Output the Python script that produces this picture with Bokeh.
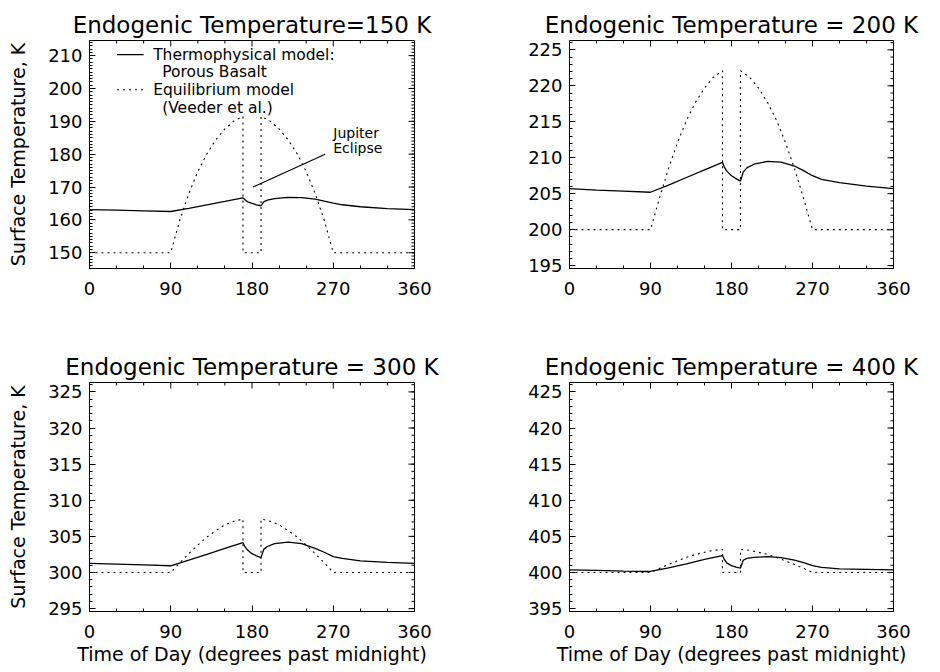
from bokeh.plotting import figure
from bokeh.models import Range1d, FixedTicker
from bokeh.layouts import row, column
from bokeh.embed import file_html
from bokeh.resources import INLINE
from bokeh.core.properties import value

# ---------------- data ----------------
x_solid = [0, 30, 60, 90, 110, 130, 150, 170, 172, 175, 180, 185, 190, 193, 197,
           205, 220, 235, 250, 260, 270, 280, 300, 330, 360]
t150_solid = [163.15, 162.95, 162.75, 162.55, 163.5, 164.55, 165.6, 166.7, 166.2, 165.5,
              165.0, 164.6, 164.3, 165.5, 166.0, 166.5, 166.85, 166.8, 166.3, 165.7,
              165.1, 164.6, 164.0, 163.45, 163.15]
t200_solid = [205.7, 205.5, 205.35, 205.2, 206.2, 207.25, 208.3, 209.35, 208.7, 208.1,
              207.5, 207.1, 206.75, 208.0, 208.6, 209.1, 209.5, 209.4, 208.85, 208.2,
              207.5, 207.0, 206.55, 206.05, 205.7]
t300_solid = [301.25, 301.15, 301.05, 300.93, 301.7, 302.5, 303.35, 304.15, 303.6, 303.1,
              302.6, 302.3, 302.05, 303.2, 303.6, 304.0, 304.2, 304.0, 303.35, 302.8,
              302.2, 301.95, 301.6, 301.4, 301.25]
t400_solid = [400.35, 400.28, 400.2, 400.14, 400.65, 401.2, 401.8, 402.35, 401.8, 401.3,
              400.95, 400.75, 400.6, 401.7, 401.95, 402.1, 402.2, 402.05, 401.7, 401.35,
              400.95, 400.7, 400.5, 400.42, 400.35]

x_eq = [0, 90, 100, 110, 120, 130, 140, 150, 160, 170, 170, 190, 190, 200, 210, 220,
        230, 240, 250, 260, 270, 360]
t150_eq = [150, 150, 159.9, 168.0, 174.7, 180.1, 184.4, 187.7, 190.1, 191.5, 150, 150,
           191.5, 190.1, 187.7, 184.4, 180.1, 174.7, 168.0, 159.9, 150, 150]
t200_eq = [200, 200, 204.4, 208.5, 212.1, 215.2, 217.7, 219.7, 221.2, 222.1, 200, 200,
           222.1, 221.2, 219.7, 217.7, 215.2, 212.1, 208.5, 204.4, 200, 200]
t300_eq = [300, 300, 301.35, 302.6, 303.8, 304.9, 305.8, 306.6, 307.1, 307.4, 300, 300,
           307.4, 307.1, 306.6, 305.8, 304.9, 303.8, 302.6, 301.35, 300, 300]
t400_eq = [400, 400, 400.57, 401.1, 401.6, 402.1, 402.5, 402.8, 403.07, 403.2, 400, 400,
           403.2, 403.07, 402.8, 402.5, 402.1, 401.6, 401.1, 400.57, 400, 400]

titles = ["Endogenic Temperature=150 K", "Endogenic Temperature = 200 K",
          "Endogenic Temperature = 300 K", "Endogenic Temperature = 400 K"]
y_ranges = [(145.2, 214.6), (194.6, 226.3), (294.6, 326.3), (394.6, 426.3)]
y_major = [[150, 160, 170, 180, 190, 200, 210],
           [195, 200, 205, 210, 215, 220, 225],
           [295, 300, 305, 310, 315, 320, 325],
           [395, 400, 405, 410, 415, 420, 425]]
x_major = [0, 90, 180, 270, 360]
x_minor = [30, 60, 120, 150, 210, 240, 300, 330]

legend_labels = ["Thermophysical model:", "Porous Basalt", "Equilibrium model", "(Veeder et al.)"]
eclipse_labels = ["Jupiter", "Eclipse"]

FONT = "DejaVu Sans"
MAJ, MIN = 6, 3


def style_axis(ax, ticker, standoff):
    ax.ticker = ticker
    ax.major_tick_in = MAJ
    ax.major_tick_out = 0
    ax.minor_tick_in = MIN
    ax.minor_tick_out = 0
    ax.axis_line_color = "black"
    ax.major_tick_line_color = "black"
    ax.minor_tick_line_color = "black"
    ax.major_label_text_font = FONT
    ax.major_label_text_color = "black"
    ax.major_label_text_font_size = "18px"
    ax.major_label_standoff = standoff
    ax.axis_label_text_font = FONT
    ax.axis_label_text_font_size = "19px"
    ax.axis_label_text_font_style = "normal"
    ax.axis_label_text_color = "black"


def make_panel(i, xs, ys, xe, ye, width, height, left, right, top, bottom, ylab, xlab):
    fw = width - left - right
    fh = height - top - bottom
    y0, y1 = y_ranges[i]
    p = figure(width=width, height=height, output_backend="svg", toolbar_location=None,
               x_range=Range1d(0, 360), y_range=Range1d(y0, y1),
               min_border_left=left, min_border_right=right,
               min_border_top=top, min_border_bottom=bottom)
    p.background_fill_color = "white"
    p.border_fill_color = "white"
    p.outline_line_color = "black"
    p.xgrid.visible = False
    p.ygrid.visible = False
    p.title.text = titles[i]
    p.title.align = "center"
    p.title.text_font = FONT
    p.title.text_font_size = "23px"
    p.title.text_font_style = "normal"
    p.title.text_color = "black"
    p.title.standoff = 6

    y_minor = list(range(int(y0) + 1, int(y1) + 1))
    xax = p.xaxis[0]
    yax = p.yaxis[0]
    style_axis(xax, FixedTicker(ticks=x_major, minor_ticks=x_minor), 13)
    style_axis(yax, FixedTicker(ticks=y_major[i], minor_ticks=y_minor), 7)
    if ylab:
        yax.axis_label = "Surface Temperature, K"
        yax.axis_label_standoff = 16
    if xlab:
        xax.axis_label = "Time of Day (degrees past midnight)"
        xax.axis_label_standoff = 2

    # inward ticks on the top and right edges (IDL box style)
    dy = (y1 - y0) / fh
    dx = 360.0 / fw
    p.segment(x0=x_major, y0=[y1] * len(x_major), x1=x_major,
              y1=[y1 - MAJ * dy] * len(x_major), line_color="black", line_width=1)
    p.segment(x0=x_minor, y0=[y1] * len(x_minor), x1=x_minor,
              y1=[y1 - MIN * dy] * len(x_minor), line_color="black", line_width=1)
    p.segment(x0=[360] * len(y_major[i]), y0=y_major[i], x1=[360 - MAJ * dx] * len(y_major[i]),
              y1=y_major[i], line_color="black", line_width=1)
    p.segment(x0=[360] * len(y_minor), y0=y_minor, x1=[360 - MIN * dx] * len(y_minor),
              y1=y_minor, line_color="black", line_width=1)

    p.line(xe, ye, line_color="black", line_width=1.1, line_dash="2 4")
    p.line(xs, ys, line_color="black", line_width=1.3)
    return p


p1 = make_panel(0, x_solid, t150_solid, x_eq, t150_eq, 464, 328, 89, 50, 40, 60, True, False)
p2 = make_panel(1, x_solid, t200_solid, x_eq, t200_eq, 476, 328, 105, 47, 40, 60, False, False)
p3 = make_panel(2, x_solid, t300_solid, x_eq, t300_eq, 464, 343, 89, 50, 54, 60, True, True)
p4 = make_panel(3, x_solid, t400_solid, x_eq, t400_eq, 476, 343, 105, 47, 54, 60, False, True)

# legend in panel 1
p1.line([30.5, 60], [210.3, 210.3], line_color="black", line_width=1.3)
p1.line([30.5, 60], [199.6, 199.6], line_color="black", line_width=1.1, line_dash="2 4")
p1.text(x=[70.5, 80.5, 70.5, 80.5], y=[210.3, 205.0, 199.6, 194.2], text=legend_labels,
        text_font=value(FONT), text_font_size="15.5px", text_baseline="middle",
        text_align="left", text_color="black")

# Jupiter eclipse annotation
p1.line([181, 261], [170.0, 180.0], line_color="black", line_width=1.1)
p1.text(x=[270, 270], y=[186.4, 181.8], text=eclipse_labels,
        text_font=value(FONT), text_font_size="14px", text_baseline="middle",
        text_align="left", text_color="black")

layout = column(row(p1, p2), row(p3, p4))
open("out.html", "w").write(file_html(layout, INLINE))
